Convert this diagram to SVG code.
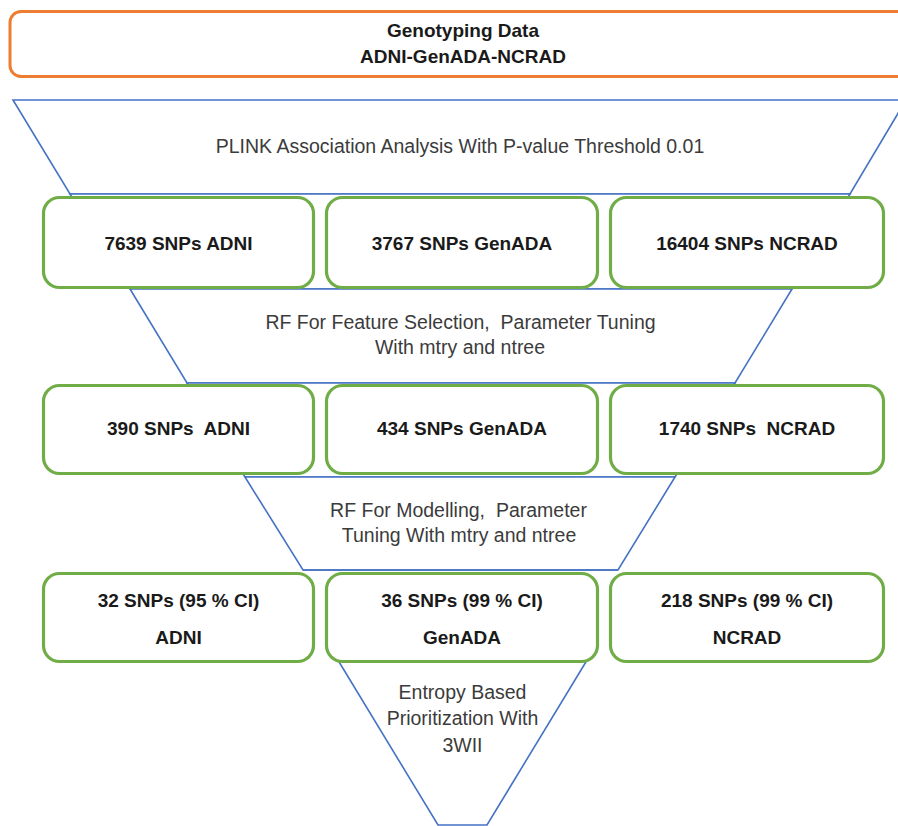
<svg xmlns="http://www.w3.org/2000/svg" width="898" height="826" viewBox="0 0 898 826">
<style>
.bg{fill:#ffffff}
.seg{fill:#ffffff;stroke:#4472C4;stroke-width:1.6;stroke-linejoin:miter}
.top{fill:#ffffff;stroke:#ED7D31;stroke-width:3}
.box{fill:#ffffff;stroke:#70AD47;stroke-width:3.2}
.b{font-family:"Liberation Sans",Arial,sans-serif;font-weight:bold;font-size:19px;fill:#1a1a1a;text-anchor:middle}
.n{font-family:"Liberation Sans",Arial,sans-serif;font-size:19.5px;fill:#3b3b3b;text-anchor:middle}
</style>
<rect class="bg" x="0" y="0" width="898" height="826"/>

<g id="genotyping-data">
<rect class="top" x="10" y="11.5" width="900" height="65" rx="11"/>
<text class="b" x="463" y="37">Genotyping Data</text>
<text class="b" x="463" y="63">ADNI-GenADA-NCRAD</text>
</g>

<g id="funnel">
<polygon class="seg" points="13,100 906,100 850,194 70,194"/>
<polygon class="seg" points="70,194 850,194 792,289 130,289"/>
<polygon class="seg" points="130,289 792,289 735,383 187,383"/>
<polygon class="seg" points="187,383 735,383 675,477 245,477"/>
<polygon class="seg" points="245,477 675,477 618,570 303,570"/>
<line class="seg" x1="303" y1="570" x2="618" y2="570"/>
<polygon class="seg" points="338.5,661 586.5,661 487,825 438,825"/>
</g>

<g id="stage-plink">
<text class="n" x="460" y="153">PLINK Association Analysis With P-value Threshold 0.01</text>
</g>
<g id="stage-rf-feature">
<text class="n" x="460.5" y="328.5" xml:space="preserve">RF For Feature Selection,  Parameter Tuning</text>
<text class="n" x="460" y="353.5">With mtry and ntree</text>
</g>
<g id="stage-rf-model">
<text class="n" x="458.5" y="517" xml:space="preserve">RF For Modelling,  Parameter</text>
<text class="n" x="459" y="542">Tuning With mtry and ntree</text>
</g>
<g id="stage-entropy">
<text class="n" x="462.5" y="698.5">Entropy Based</text>
<text class="n" x="462.5" y="725">Prioritization With</text>
<text class="n" x="462.5" y="751.5">3WII</text>
</g>

<g id="adni-7639">
<rect class="box" x="43.5" y="197.5" width="270" height="90" rx="16"/>
<text class="b" x="178.5" y="250">7639 SNPs ADNI</text>
</g>
<g id="genada-3767">
<rect class="box" x="326.5" y="197.5" width="271" height="90" rx="16"/>
<text class="b" x="462" y="250">3767 SNPs GenADA</text>
</g>
<g id="ncrad-16404">
<rect class="box" x="610.5" y="197.5" width="273" height="90" rx="16"/>
<text class="b" x="747" y="250">16404 SNPs NCRAD</text>
</g>

<g id="adni-390">
<rect class="box" x="43.5" y="385.5" width="270" height="88" rx="16"/>
<text class="b" x="178.5" y="435" xml:space="preserve">390 SNPs  ADNI</text>
</g>
<g id="genada-434">
<rect class="box" x="326.5" y="385.5" width="271" height="88" rx="16"/>
<text class="b" x="462" y="435">434 SNPs GenADA</text>
</g>
<g id="ncrad-1740">
<rect class="box" x="610.5" y="385.5" width="273" height="88" rx="16"/>
<text class="b" x="747" y="435" xml:space="preserve">1740 SNPs  NCRAD</text>
</g>

<g id="adni-32">
<rect class="box" x="43.5" y="573.5" width="270" height="88" rx="16"/>
<text class="b" x="178.5" y="607">32 SNPs (95 % CI)</text>
<text class="b" x="178.5" y="643.5">ADNI</text>
</g>
<g id="genada-36">
<rect class="box" x="326.5" y="573.5" width="271" height="88" rx="16"/>
<text class="b" x="462" y="607">36 SNPs (99 % CI)</text>
<text class="b" x="462" y="643.5">GenADA</text>
</g>
<g id="ncrad-218">
<rect class="box" x="610.5" y="573.5" width="273" height="88" rx="16"/>
<text class="b" x="747" y="607">218 SNPs (99 % CI)</text>
<text class="b" x="747" y="643.5">NCRAD</text>
</g>
</svg>
